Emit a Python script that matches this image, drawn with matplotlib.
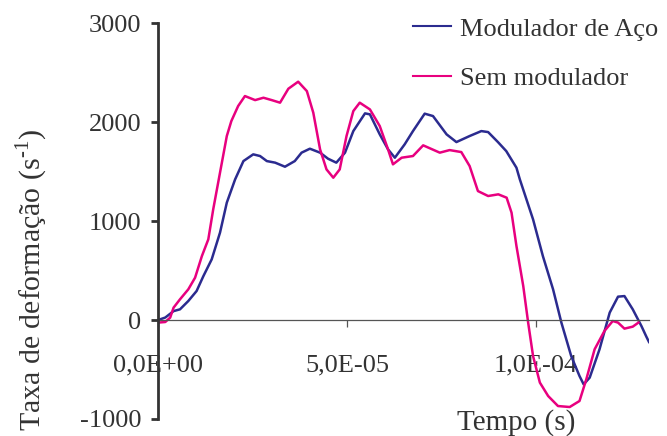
import matplotlib.pyplot as plt

# time in seconds, strain rate in 1/s
t_aco = [0, 0.19e-5, 0.41e-5, 0.58e-5, 0.80e-5, 1.02e-5, 1.20e-5, 1.42e-5, 1.64e-5, 1.82e-5,
         2.04e-5, 2.26e-5, 2.52e-5, 2.70e-5, 2.88e-5, 3.10e-5, 3.36e-5, 3.62e-5, 3.80e-5, 4.02e-5,
         4.29e-5, 4.50e-5, 4.72e-5, 4.95e-5, 5.17e-5, 5.48e-5, 5.61e-5, 5.87e-5, 6.09e-5, 6.27e-5,
         6.53e-5, 6.75e-5, 7.06e-5, 7.28e-5, 7.64e-5, 7.90e-5, 8.25e-5, 8.56e-5, 8.74e-5, 9.00e-5,
         9.22e-5, 9.49e-5, 9.58e-5, 9.93e-5, 10.19e-5, 10.46e-5, 10.68e-5, 10.94e-5, 11.16e-5, 11.27e-5,
         11.43e-5, 11.69e-5, 11.96e-5, 12.18e-5, 12.35e-5, 12.57e-5, 12.80e-5, 12.93e-5, 13.0e-5]
v_aco = [0, 25, 90, 108, 192, 293, 444, 613, 883, 1186,
         1421, 1606, 1674, 1657, 1606, 1590, 1549, 1606, 1691, 1731,
         1691, 1630, 1590, 1691, 1909, 2088, 2078, 1876, 1724, 1640,
         1775, 1909, 2085, 2061, 1876, 1798, 1859, 1909, 1899, 1798,
         1707, 1539, 1421, 1017, 646, 310, -26, -364, -566, -650,
         -582, -296, 75, 236, 242, 108, -61, -168, -222]

t_sem = [0, 0.19e-5, 0.32e-5, 0.41e-5, 0.58e-5, 0.80e-5, 0.98e-5, 1.16e-5, 1.33e-5, 1.46e-5,
         1.64e-5, 1.82e-5, 1.94e-5, 2.12e-5, 2.30e-5, 2.57e-5, 2.79e-5, 3.01e-5, 3.23e-5, 3.45e-5,
         3.71e-5, 3.94e-5, 4.11e-5, 4.29e-5, 4.46e-5, 4.64e-5, 4.81e-5, 4.99e-5, 5.17e-5, 5.34e-5,
         5.61e-5, 5.87e-5, 6.09e-5, 6.22e-5, 6.45e-5, 6.75e-5, 7.02e-5, 7.46e-5, 7.72e-5, 8.03e-5,
         8.25e-5, 8.47e-5, 8.74e-5, 9.01e-5, 9.23e-5, 9.36e-5, 9.49e-5, 9.67e-5, 9.80e-5, 9.93e-5,
         10.11e-5, 10.33e-5, 10.59e-5, 10.90e-5, 11.16e-5, 11.34e-5, 11.56e-5, 11.82e-5, 12.04e-5, 12.18e-5,
         12.35e-5, 12.57e-5, 12.72e-5]
v_sem = [-26, -20, 24, 125, 209, 310, 428, 646, 815, 1118,
         1489, 1859, 2010, 2162, 2263, 2222, 2246, 2222, 2196, 2337,
         2408, 2313, 2095, 1724, 1522, 1438, 1522, 1859, 2111, 2196,
         2128, 1960, 1724, 1573, 1640, 1657, 1765, 1691, 1717, 1697,
         1556, 1303, 1253, 1270, 1236, 1085, 748, 344, -26, -364,
         -632, -768, -869, -879, -818, -599, -296, -111, -10, -26,
         -87, -67, -26]

x_ticks = [0, 5e-5, 1e-4]
x_labels = ['0,0E+00', '5,0E-05', '1,0E-04']
y_ticks = [-1000, 0, 1000, 2000, 3000]

plt.rcParams['font.family'] = 'Liberation Serif'
plt.rcParams['font.size'] = 19
plt.rcParams['axes.unicode_minus'] = False
plt.rcParams['mathtext.fontset'] = 'custom'
plt.rcParams['mathtext.rm'] = 'Liberation Serif'
txt = '#333333'

fig = plt.figure(figsize=(6.67, 4.36), dpi=100)
ax = fig.add_axes([0.237, 0.039, 0.736, 0.908])

ax.plot(t_aco, v_aco, color='#2b2b8f', lw=1.8, solid_joinstyle='round',
        label='Modulador de Aço')
ax.plot(t_sem, v_sem, color='#e8007f', lw=1.8, solid_joinstyle='round',
        label='Sem modulador')

ax.set_xlim(0, 1.3e-4)
ax.set_ylim(-1000, 3000)
ax.set_xticks(x_ticks)
ax.set_xticklabels(x_labels)
ax.set_yticks(y_ticks)

for s in ['top', 'right']:
    ax.spines[s].set_visible(False)
ax.spines['bottom'].set_position(('data', 0))
ax.spines['bottom'].set_color('#555555')
ax.spines['bottom'].set_linewidth(0.9)
ax.spines['left'].set_color('#333333')
ax.spines['left'].set_linewidth(2.0)
ax.spines['left'].set_zorder(3)

ax.tick_params(axis='y', direction='out', length=5, width=2, color='#333333',
               labelcolor=txt, pad=7)
ax.tick_params(axis='x', direction='out', length=5, width=0.9, color='#555555',
               labelcolor=txt, pad=20)

fig.text(0.048, 0.358, r'Taxa de deformação (s$^{\mathrm{\text{-}1}}$)', rotation=90,
         ha='center', va='center', color=txt, fontsize=21.5)
fig.text(0.774, 0.031, 'Tempo (s)', ha='center', va='center', color=txt, fontsize=21)

leg = ax.legend(loc='upper left', bbox_to_anchor=(0.497, 1.042), frameon=False,
                handlelength=1.45, handletextpad=0.35, labelspacing=1.0,
                borderaxespad=0)
for t in leg.get_texts():
    t.set_color(txt)
for h in leg.get_lines():
    h.set_linewidth(1.5)

fig.savefig('out.png', dpi=100)
